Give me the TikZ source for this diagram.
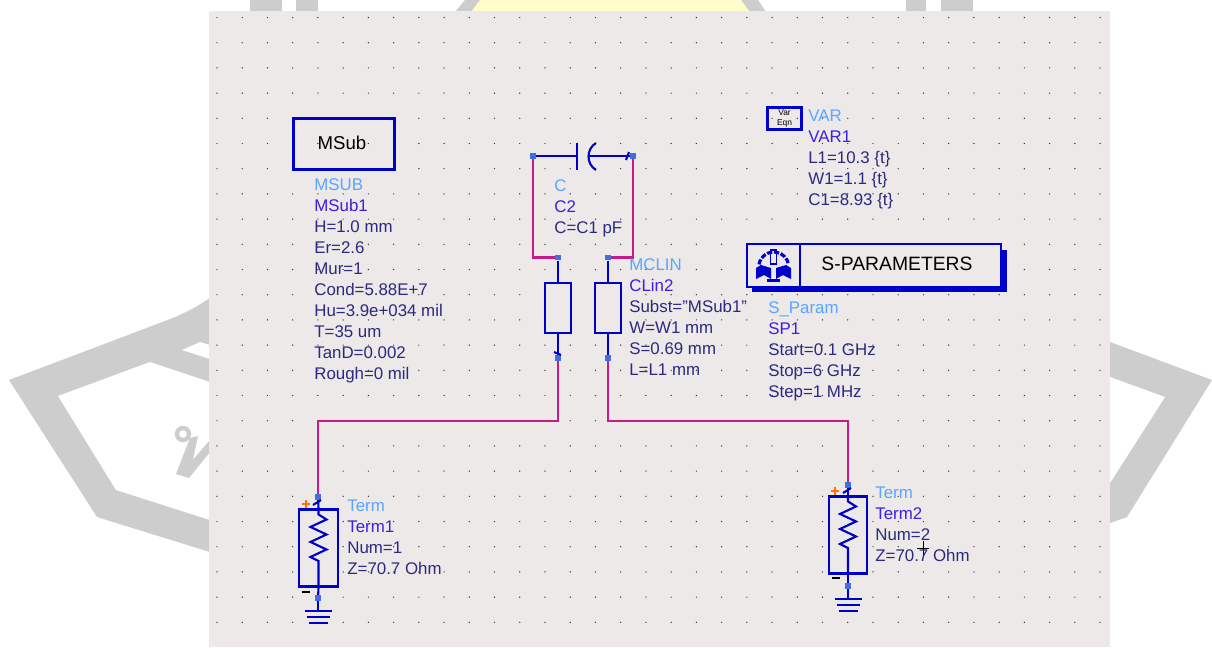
\documentclass[tikz,border=0pt]{standalone}
\usepackage{fontspec}
\setmainfont{Liberation Sans}
\usepackage{xcolor}
\usetikzlibrary{calc}
\definecolor{panelgray}{HTML}{ECE9E8}
\definecolor{markgray}{HTML}{CDCDCD}
\definecolor{markyellow}{HTML}{FFFDCB}
\definecolor{symblue}{HTML}{0000CC}
\definecolor{wirepink}{HTML}{C71A85}
\definecolor{portblue}{HTML}{3F6FE0}
\definecolor{typeblue}{HTML}{5AA5FF}
\definecolor{instblue}{HTML}{3A20E0}
\definecolor{parmblue}{HTML}{2A2A80}

\begin{document}
\begin{tikzpicture}[x=0.02cm,y=-0.02cm]
	\tikzset{sym/.style = {draw=symblue,line width=1.2pt}}
	\tikzset{wire/.style = {draw=wirepink,line width=1.35pt}}
	\tikzset{port/.style = {shape=rectangle,fill=portblue,inner sep=0pt,minimum size=0.11cm}}
	\tikzset{linebox/.style = {shape=rectangle,sym,fill=panelgray,minimum width=0.52cm,minimum height=1cm,inner sep=0pt}}
	\tikzset{termbox/.style = {shape=rectangle,sym,fill=panelgray,minimum width=0.77cm,minimum height=1.54cm,inner sep=0pt}}
	\tikzset{params/.style = {anchor=north west,align=left,inner sep=0pt,text=parmblue,font=\fontsize{9.6}{11.95}\selectfont}}
	\newcommand{\ptype}[1]{\textcolor{typeblue}{#1}}
	\newcommand{\pinst}[1]{\textcolor{instblue}{#1}}

	\useasboundingbox (0,0) rectangle (1212,647);
	\fill[white] (0,0) rectangle (1212,647);

	% watermark
	\fill[markgray] (9,380) -- (173,318) .. controls (185,313) and (198,306) .. (210,298) -- (210,552) -- (97,517) -- cycle;
	\fill[white] (58,396) -- (150,362) -- (210,382) -- (210,520) -- (116,490) -- cycle;
	\fill[white] (182,350) -- (200,342) -- (210,345) -- (210,359) -- cycle;
	\fill[markgray] (1110,342) -- (1212,380) -- (1127,517) -- (1110,523) -- cycle;
	\fill[white] (1110,377) -- (1165,397) -- (1110,483) -- cycle;
	\fill[markgray] (250,0) rectangle (282,12);
	\fill[markgray] (296,0) rectangle (318,12);
	\fill[markgray] (906,0) rectangle (926,12);
	\fill[markgray] (941,0) rectangle (973,12);
	\fill[markgray] (455,12) -- (465,0) -- (758,0) -- (766,12) -- cycle;
	\fill[markyellow] (471,12) -- (480,0) -- (741,0) -- (750,12) -- cycle;
	\draw[markgray,line width=2.5pt] (183,434) circle (6);
	\fill[markgray] (190,438) -- (198,436) -- (189,478) -- (176,474) -- cycle;
	\fill[markgray] (189,478) -- (210,452) -- (210,440) -- (184,470) -- cycle;

	% panel
	\fill[panelgray] (209,11) rectangle (1110,647);
	\foreach \i in {0,...,35} {
		\foreach \j in {0,...,24} {
			\fill[black!80] ({217+25.23*\i},{17.5+25.2*\j}) circle (0.7);
		}
	}

	% blocks
	\node[shape=rectangle,sym,minimum width=2.02cm,minimum height=1.02cm,inner sep=0pt,font=\fontsize{10.6}{12}\selectfont] (msub) at (344,144) {};
	\node[font=\fontsize{10.6}{12}\selectfont] (msubname) at (342,143) {MSub};
	\node[shape=rectangle,sym,minimum width=0.68cm,minimum height=0.44cm,inner sep=0pt,font=\fontsize{4.8}{5.2}\selectfont,align=center] (var) at (784.5,118.5) {Var\\Eqn};
	\fill[symblue] (752,250) rectangle (1007,292);
	\node[shape=rectangle,sym,fill=panelgray,minimum width=5.08cm,minimum height=0.85cm,inner sep=0pt] (spar) at (874,265.5) {};
	\node[font=\fontsize{11}{12}\selectfont] (sparname) at (897,263.5) {S-PARAMETERS};
	\draw[sym] (800,244) -- (800,287);
	\begin{scope}[symblue]
		\draw[line width=1.1pt] (770.5,250) rectangle (776.5,264);
		\draw[line width=1.8pt,dash pattern=on 3pt off 1pt] (759,264.4) arc (190:350:15);
		\fill (756,268) -- (761,265) -- (771,268) -- (771,279) -- (764,275) -- (756,279) -- cycle;
		\fill (791,268) -- (786,265) -- (776,268) -- (776,279) -- (783,275) -- (791,279) -- cycle;
		\fill (767,279) rectangle (780,282);
	\end{scope}

	% lines and capacitor
	\node[linebox] (lina) at (558,308) {};
	\node[linebox] (linb) at (608,308) {};
	\node[port] (linat) at (558,257.5) {};
	\node[port] (linbt) at (608,257.5) {};
	\node[port] (linab) at (558,358) {};
	\node[port] (linbb) at (608,358) {};
	\node[port] (capl) at (533,156) {};
	\node[port] (capr) at (633,156) {};
	\coordinate (platea) at (577,156);
	\coordinate (plateb) at (588,156);
	\draw[sym] (capl) -- (platea);
	\draw[sym] ($(platea)+(0,-13.5)$) -- ($(platea)+(0,14)$);
	\draw[sym] (596,143) .. controls (586,149) and (586,164) .. (596,170);
	\draw[sym] (plateb) -- (capr);
	\draw[sym] (626,160) -- (629,152);
	\draw[sym] (linat) -- (lina);
	\draw[sym] (lina) -- (linab);
	\draw[sym] (linbt) -- (linb);
	\draw[sym] (linb) -- (linbb);
	\draw[sym] (554,352) -- (561,355);

	% terminations
	\node[termbox] (terma) at (318.5,548) {};
	\node[port] (termat) at (318,497) {};
	\node[port] (termab) at (318,598) {};
	\node[termbox] (termb) at (848,535) {};
	\node[port] (termbt) at (848,485) {};
	\node[port] (termbb) at (848,586) {};
	\foreach \n in {a,b} {
		\draw[sym] (term\n t) -- (term\n.north);
		\draw[sym] (term\n.north) -- ($(term\n.north)+(0,6)$) -- ++(8,5) -- ++(-16,7.5) -- ++(16,7.5) -- ++(-16,7.5) -- ++(16,7.5) -- ++(-16,7.5) -- ++(8,4) -- (term\n.south);
		\draw[sym] (term\n.south) -- (term\n b);
		\draw[sym] (term\n b) -- ($(term\n b)+(0,13)$);
		\draw[sym] ($(term\n b)+(-13.5,13)$) -- ++(27,0);
		\draw[sym] ($(term\n b)+(-11.5,19)$) -- ++(23,0);
		\draw[sym] ($(term\n b)+(-9.5,25)$) -- ++(19,0);
	}
	\draw[sym] (313,505) -- (321,500);
	\draw[sym] (843,493) -- (851,488);
	\draw[orange!90!red,line width=1.1pt] (302,504) -- (310,504) (306,500) -- (306,508);
	\draw[orange!90!red,line width=1.1pt] (831,491) -- (839,491) (835,487) -- (835,495);
	\draw[black,line width=1.1pt] (302,592) -- (310,592);
	\draw[black,line width=1.1pt] (832,578) -- (840,578);
	\draw[black,line width=0.5pt] (917,548) -- (929,548) (923,541) -- (923,556);

	%wires
	\coordinate (benda) at (558,421);
	\coordinate (bendb) at (608,421);
	\draw[wire] (capl) |- (linat);
	\draw[wire] (capr) |- (linbt);
	\draw[wire] (linab) -- (benda) -| (termat);
	\draw[wire] (linbb) -- (bendb) -| (termbt);

	% parameter text
	\node[params] (msubtext) at (314,178.5) {\ptype{MSUB}\\\pinst{MSub1}\\H=1.0 mm\\Er=2.6\\Mur=1\\Cond=5.88E+7\\Hu=3.9e+034 mil\\T=35 um\\TanD=0.002\\Rough=0 mil};
	\node[params] (vartext) at (808,109.5) {\ptype{VAR}\\\pinst{VAR1}\\L1=10.3 \{t\}\\W1=1.1 \{t\}\\C1=8.93 \{t\}};
	\node[params] (spartext) at (768,301.5) {\ptype{S\_Param}\\\pinst{SP1}\\Start=0.1 GHz\\Stop=6 GHz\\Step=1 MHz};
	\node[params] (captext) at (554,179.5) {\ptype{C}\\\pinst{C2}\\C=C1 pF};
	\node[params] (lintext) at (629,258.5) {\ptype{MCLIN}\\\pinst{CLin2}\\Subst="MSub1"\\W=W1 mm\\S=0.69 mm\\L=L1 mm};
	\node[params] (termatext) at (347,499.5) {\ptype{Term}\\\pinst{Term1}\\Num=1\\Z=70.7 Ohm};
	\node[params] (termbtext) at (875,486.5) {\ptype{Term}\\\pinst{Term2}\\Num=2\\Z=70.7 Ohm};
\end{tikzpicture}
\end{document}
